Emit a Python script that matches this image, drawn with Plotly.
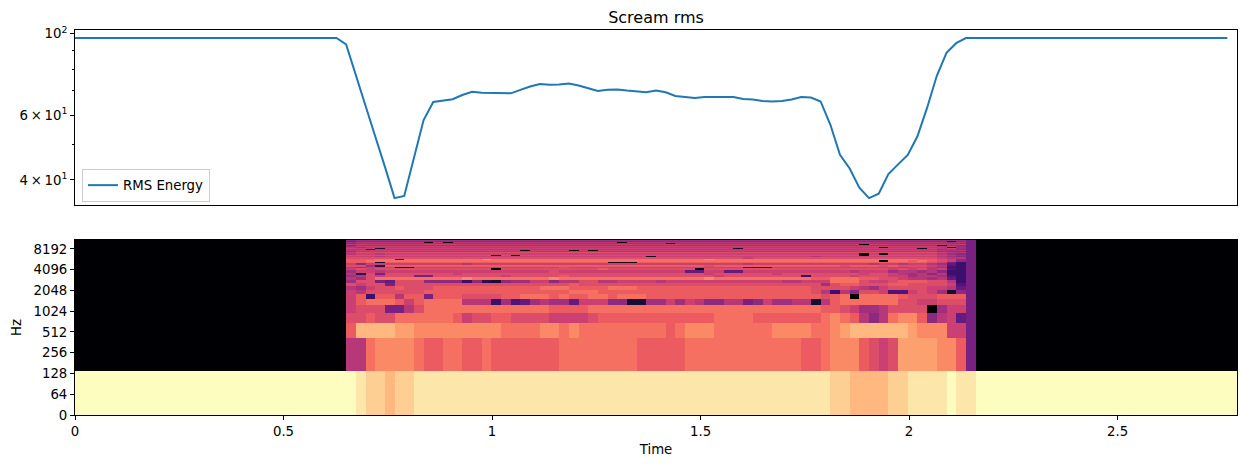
import math
import plotly.graph_objects as go

# ---------------- data ----------------
SR = 22050
HOP = 512
N_FFT = 80
N_FRAMES = 120
ACTIVE_START = 28   # first frame where the scream is audible

# RMS energy per frame (frames 0..119)
rms_energy = [
    97.3, 97.3, 97.3, 97.3, 97.3, 97.3, 97.3, 97.3, 97.3, 97.3,
    97.3, 97.3, 97.3, 97.3, 97.3, 97.3, 97.3, 97.3, 97.3, 97.3,
    97.3, 97.3, 97.3, 97.3, 97.3, 97.3, 97.3, 97.3, 93.5, 76.8,
    63.1, 52.6, 43.5, 35.7, 36.2, 46.3, 58.2, 65.2, 65.6, 66.3,
    68.1, 69.5, 69.1, 69.0, 69.0, 68.8, 70.3, 71.8, 72.9, 72.6,
    72.7, 73.2, 72.3, 70.9, 69.8, 70.4, 70.5, 70.0, 69.5, 69.3,
    70.0, 69.3, 67.7, 67.4, 66.8, 67.2, 67.2, 67.4, 67.2, 66.4,
    66.2, 65.6, 65.4, 65.6, 66.2, 67.2, 67.0, 65.4, 56.6, 46.8,
    43.0, 38.1, 35.7, 36.7, 41.5, 44.1, 46.8, 52.6, 62.9, 76.8,
    88.7, 94.2, 97.3, 97.3, 97.3, 97.3, 97.3, 97.3, 97.3, 97.3,
    97.3, 97.3, 97.3, 97.3, 97.3, 97.3, 97.3, 97.3, 97.3, 97.3,
    97.3, 97.3, 97.3, 97.3, 97.3, 97.3, 97.3, 97.3, 97.3, 97.3,
]

hz_tick_values = [0, 64, 128, 256, 512, 1024, 2048, 4096, 8192]
hz_tick_labels = ["0", "64", "128", "256", "512", "1024", "2048", "4096", "8192"]
time_tick_values = [0, 0.5, 1, 1.5, 2, 2.5]
time_tick_labels = ["0", "0.5", "1", "1.5", "2", "2.5"]
rms_major_ticks = [40, 60, 100]
rms_major_labels = ["4\u2009\u00d7\u200910<sup>1</sup>", "6\u2009\u00d7\u200910<sup>1</sup>", "10<sup>2</sup>"]
rms_minor_ticks = [50, 70, 80, 90]

# spectrogram levels: one character per cell, "0" = 0 .. "k" = 1 (dB scaled)
LEVELS = "0123456789abcdefghijk"
silent_level_low = "k"    # lowest bin while silent
silent_level_high = "0"   # all other bins while silent

# active frames 28..92, groups of 5 frames; index = frequency bin (0 = lowest)
spec_active = [
    "kjiih iijjj jjjjj jjjjj jjjjj jjjjj jjjjj jjjjj jjjjj jjjjj iihhh hiijj jjkjj",  # 0
    "aaeff ffedd eedde ddddd ddeee eeeee ddddd eeeee eeeee eedde fffdc bcggg gffd7",  # 1
    "dhhhh ggfff fffff feeee ffefe eeeee eeede fffee eeeef fffee fghhh hhhgf ffbb7",  # 2
    "ccdcc eeeee edbcc ddccc cbbbb cdddd ddddd dddee eeddd dddde feda8 aeffd 8ab67",  # 3
    "bccc7 7acee eeeee eeeee edddd eeeee eeeee eeeee eeeee eeeed dcb99 acccc 09bb7",  # 4
    "bdeee dbdee eeaaa 49569 a996b bb882 299b9 ba88a a78b9 9aa2a deeee eeccb bccc7",  # 5
    "bd4dd add7d ddccc cddee ededd eedee edddd ddddd ddddd ddddc de0ee eedcc cddd7",  # 6
    "baccc cccdd ddddd ddddd dddee edddd ddddd ddddd ddddd dddca 4a8cc b55bc b9287",  # 7
    "a9bcc dcccd ddddd ddddd eeedd ddeee ddddd ddddd ddddd dddcc ccba9 bcccc bba67",  # 8
    "cbcc7 ccccc ccccc ccccc cccdc ccccc ccccc ccccc ccccc cccc9 cddcc cddcc ccb57",  # 9
    "9cc76 ccc88 88483 2899b b8aac caabb bbabb bbbbb bbbbb aabbb eeecb bcddd cca47",  # 10
    "a9cee eeeee eefee eeeee efeee eeeee eeeee eefee eeeee eeedd eeedd ccbaa 9a647",  # 11
    "9acbc cc77c ccccc cbccc ccdcc ccccc ccccc cccbc ccccc cc4cc ccbcc cbb9a a9547",  # 12
    "a3c7c ccccc cbccc ccccc ccccc ccccc ccccc ccbcc ccccb ccccc cccbc cba9a 8a447",  # 13
    "9bbab bbbbb bbbbb bbbbb bcbbb bbbbb bbbbb 66bb6 6bbbb bbbbb bbabb b9aa9 a8447",  # 14
    "bcbcc ccccc ccccc 0cccc ccccc cdccc ccccc c1ccc ccccc ccccc ccccc cbcbc ab547",  # 15
    "a9bbb 00bbb bbbbb bbbbb bbcbb bbbbb bbbbb bbbbb b444b bbbbb bbbbb bbabb a9447",  # 16
    "cc93d ddddd ddddd ddddd ddddd ddddd ddddd ddcdd ddddd ddddd dcddd cdccc ba547",  # 17
    "b8bbb bbbbb bbabb bbbbb bbbbb bbbbb bbbbb bbbbb babbb bbbbb bbbba bbabb a9647",  # 18
    "ddd2d ddddd ddddd ddddd ddddd dd111 ddddd ddddd ddddd ddddd ddddd ddddd cb747",  # 19
    "ddeee eeeee eeeee eeeee eeeee eeeee eeeee eeeee eeeee eeeee eeeee 0eede dcb87",  # 20
    "dddee 4eeee eeeef eeeee eeeee eeeee eeeee eefee eeeee eeeee eeeee eeeed dcb87",  # 21
    "ccccc ccccc ccccc ccccc ccccc ccccc ccccc ccccc cbccc ccccc ccccc ccccc cbaa7",  # 22
    "bbbab bbbbb bbbbb bbbbb bbbbb bbbbb b1bbb bbbbb bbbbb bbbab bbbbb bbbbb ba987",  # 23
    "ccccc ccccc ccccc 0c0cc ccccc ccccc ccccc ccccc ccccc ccccc ccc0c ccccc cba97",  # 24
    "abbab bbbbb bbbbb bbbbb bbbbb bbbbb bbbbb bbbbb bbbbb bbbbb bbb0b 1bbbb ba987",  # 25
    "bcccc ccccc ccccc ccccc ccccc ccccc ccccc ccccc ccccc ccccc ccccc ccccc cbaa7",  # 26
    "9aaaa aaaaa aaaaa aaaaa aaaaa aaaaa aaaaa aaaaa aaaaa aaaaa aaaaa aaaaa a9987",  # 27
    "abbbb bbbbb bbbbb bbb0b bbb0b 0bbbb bbbbb bbbbb bbbbb bbbbb bbbbb bbbbb ba9a7",  # 28
    "aa3aa aaaaa aaaaa aaaaa aaaaa aaaaa aaaaa aaaaa aaaaa aaaaa aaaaa aaaaa a9a87",  # 29
    "bbb2b bbbbb bbbbb bbbbb bbbbb bbbbb bbbbb bbbbb 1bbbb bbbbb bbbbb bbbb1 bab97",  # 30
    "a9aaa aaaaa aaaaa aaaaa aaaaa aaaaa aaaaa aaaaa aaaaa aaaaa aaaaa 0aaaa aa197",  # 31
    "9bbbb bbbbb bbbbb bbbbb bbbbb bbbbb bbbbb bbbbb bbbbb bbbbb bbbbb bbbbb bab97",  # 32
    "89999 99999 99999 99999 99999 99999 99999 99999 99999 99999 99999 99999 91987",  # 33
    "abbbb bbbbb bbbbb bbbbb bbbbb bbbbb bbbbb bbbbb bbbbb bbbbb bbb0b bbbbb bbab7",  # 34
    "9aaaa aaaaa aaaaa aaaaa aaaaa aaaaa aaaaa aaaaa aaaaa aaaaa aaaaa aaaaa aa9a7",  # 35
    "89999 99999 99999 99999 99999 99999 99919 99999 99999 99999 99999 99999 99987",  # 36
    "9aaaa aaa0a 0aaaa aaaaa aaaaa aaa0a aaaaa aaaaa aaaaa aaaaa aaaaa aaaaa aa9a7",  # 37
    "78888 88888 88888 88888 88888 88888 88888 88888 88888 88888 88888 88888 88187",  # 38
    "89999 99999 99999 99999 99999 99999 99999 99999 99999 99999 99999 99999 99997",  # 39
    "77777 77777 77777 77777 77777 77777 77777 77777 77777 77777 77777 77777 77777",  # 40
]

# ---------------- build spectrogram matrix ----------------
n_bins = len(spec_active)
z = []
for b, s in enumerate(spec_active):
    active = s.replace(" ", "")
    assert len(active) == 65, (b, len(active))
    sil = silent_level_low if b == 0 else silent_level_high
    n_after = N_FRAMES - ACTIVE_START - len(active)
    chars = sil * ACTIVE_START + active + sil * n_after
    z.append([LEVELS.index(c) / (len(LEVELS) - 1) for c in chars])

frame_dur = HOP / SR
x_edges = [i * frame_dur for i in range(N_FRAMES + 1)]
bin_w = SR / N_FFT
f_edges = [min(max((k - 0.5) * bin_w, 0.0), SR / 2) for k in range(n_bins + 1)]

LINTHRESH = 64.0


def symlog2(f):
    # matplotlib symlog, base 2, linthresh 64, linscale 0.5
    if f <= LINTHRESH:
        return f / LINTHRESH
    return 1.0 + math.log2(f / LINTHRESH)


y_edges = [symlog2(f) for f in f_edges]
rms_times = [i * frame_dur for i in range(len(rms_energy))]

# ---------------- figure ----------------
FONT = "DejaVu Sans"
W, H = 1250, 468
L, R, T, B = 75, 13, 30, 53
plot_h = H - T - B
top_dom = [(415 - 205) / plot_h, 1.0]
bot_dom = [0.0, (415 - 240) / plot_h]
x_max = N_FRAMES * frame_dur

fig = go.Figure()
fig.add_trace(go.Heatmap(
    x=x_edges, y=y_edges, z=z, colorscale="Magma", zmin=0, zmax=1,
    showscale=False, hoverinfo="skip", xaxis="x", yaxis="y", showlegend=False,
))
fig.add_trace(go.Scatter(
    x=rms_times, y=rms_energy, mode="lines", name="RMS Energy",
    line=dict(color="#1f77b4", width=2), xaxis="x2", yaxis="y2",
))

axis_common = dict(showline=True, linecolor="black", linewidth=1, mirror=True,
                   showgrid=False, zeroline=False, ticks="outside", ticklen=4,
                   tickcolor="black", automargin=False,
                   tickfont=dict(family=FONT, size=13.3, color="black"))

fig.update_layout(
    width=W, height=H,
    margin=dict(l=L, r=R, t=T, b=B, autoexpand=False),
    paper_bgcolor="white", plot_bgcolor="white",
    font=dict(family=FONT, size=13.3, color="black"),
    title=dict(text="Scream rms", x=0.5, xref="paper", xanchor="center",
               y=1 - 17 / H, yref="container", yanchor="middle",
               font=dict(family=FONT, size=16, color="black")),
    xaxis=dict(domain=[0, 1], anchor="y", range=[0, x_max],
               tickmode="array", tickvals=time_tick_values, ticktext=time_tick_labels,
               title=dict(text="Time", font=dict(family=FONT, size=13.3), standoff=6),
               **axis_common),
    yaxis=dict(domain=bot_dom, anchor="x", range=[0, symlog2(SR / 2)],
               tickmode="array", tickvals=[symlog2(v) for v in hz_tick_values],
               ticktext=hz_tick_labels,
               title=dict(text="Hz", font=dict(family=FONT, size=13.3), standoff=8),
               **axis_common),
    xaxis2=dict(domain=[0, 1], anchor="y2", range=[0, x_max],
                showline=True, linecolor="black", linewidth=1, mirror=True,
                showgrid=False, zeroline=False, showticklabels=False, ticks=""),
    yaxis2=dict(domain=top_dom, anchor="x2", type="log",
                range=[math.log10(34.2), math.log10(102.3)],
                tickmode="array", tickvals=rms_major_ticks, ticktext=rms_major_labels,
                minor=dict(tickvals=rms_minor_ticks, ticks="outside", ticklen=2,
                           tickcolor="black", showgrid=False),
                **axis_common),
    legend=dict(x=(82 - L) / (W - L - R), y=(415 - 202) / plot_h,
                xanchor="left", yanchor="bottom",
                bgcolor="rgba(255,255,255,0.8)", bordercolor="#cccccc", borderwidth=1,
                font=dict(family=FONT, size=13.3, color="black")),
    showlegend=True,
)

fig.write_html(
    "out.html",
    config={"displayModeBar": False},
    post_script="document.body.style.margin='0px';document.body.style.overflow='hidden';",
)
